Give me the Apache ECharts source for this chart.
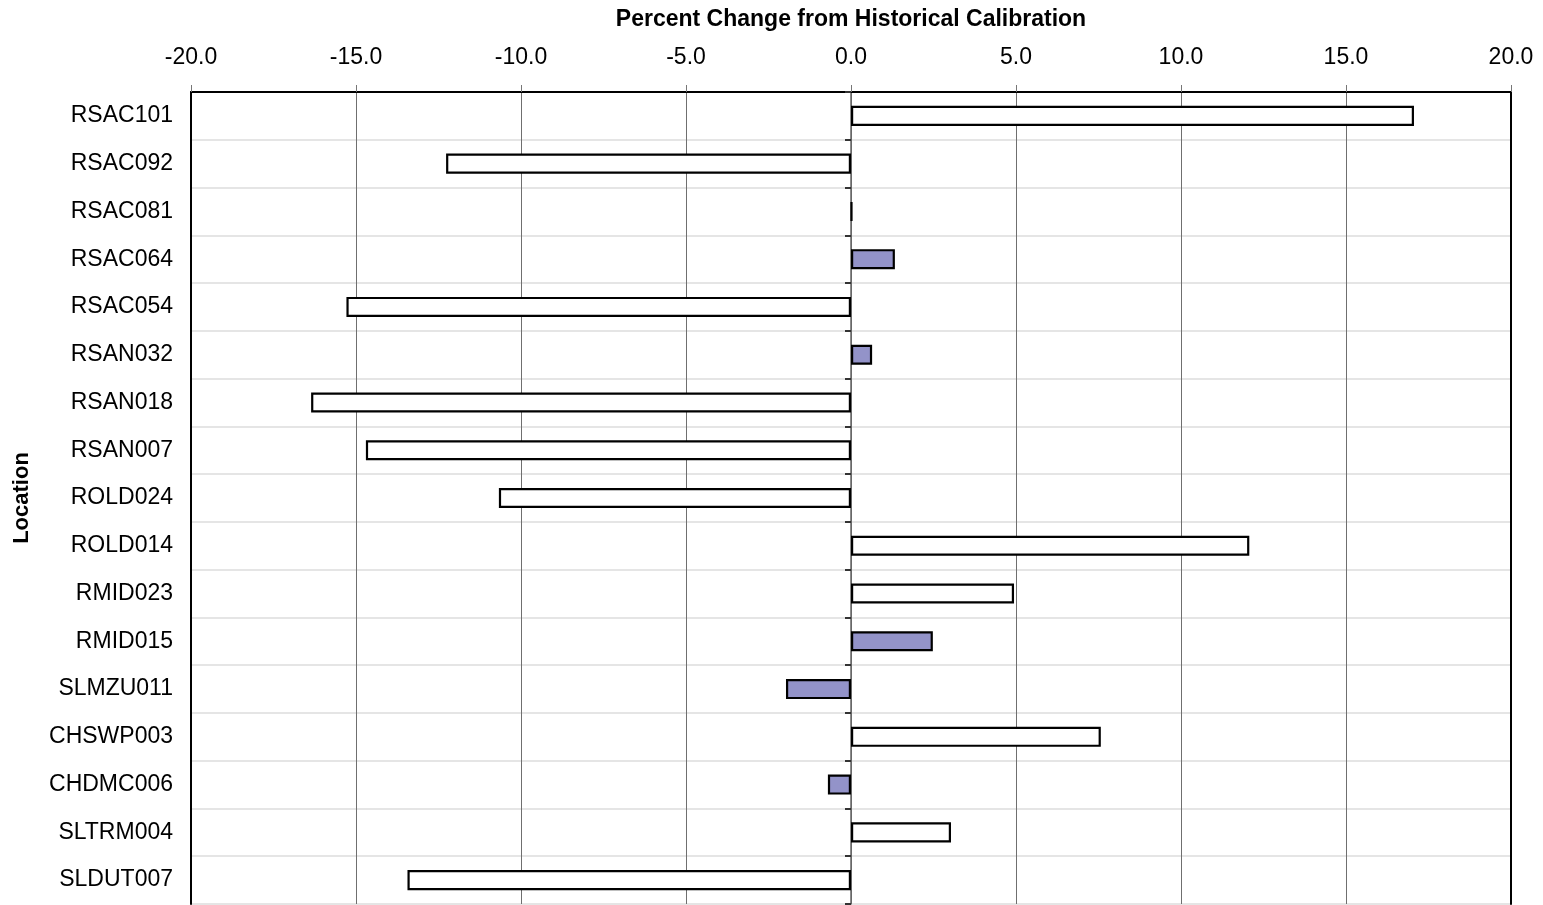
<!DOCTYPE html>
<html>
<head>
<meta charset="utf-8">
<script src="https://cdn.jsdelivr.net/npm/echarts@6/dist/echarts.min.js"></script>
<style>html,body{margin:0;padding:0;background:#fff;}#c{width:1543px;height:905px;}</style>
</head>
<body>
<div id="c"></div>
<script>
const categories = ['RSAC101','RSAC092','RSAC081','RSAC064','RSAC054','RSAN032','RSAN018','RSAN007','ROLD024','ROLD014','RMID023','RMID015','SLMZU011','CHSWP003','CHDMC006','SLTRM004','SLDUT007'];
const whiteValues = [17.06, -12.27, 0.03, '-', -15.29, '-', -16.36, -14.70, -10.67, 12.07, 4.94, '-', '-', 7.57, '-', 3.03, -13.44];
const purpleValues = ['-', '-', '-', 1.33, '-', 0.64, '-', '-', '-', '-', '-', 2.48, -1.97, '-', -0.70, '-', '-'];
const xMin = -20, xMax = 20, xStep = 5;
const xTitle = 'Percent Change from Historical Calibration';
const yTitle = 'Location';

const chart = echarts.init(document.getElementById('c'));
const font = 'Liberation Sans, Arial, sans-serif';
chart.setOption({
  animation: false,
  backgroundColor: '#fff',
  grid: {left: 191, right: 32, top: 92, bottom: 1, containLabel: false, outerBoundsMode: 'none'},
  xAxis: {
    type: 'value', position: 'top', min: xMin, max: xMax, interval: xStep,
    name: xTitle, nameLocation: 'middle', nameGap: 61,
    nameTextStyle: {fontFamily: font, fontSize: 23, fontWeight: 'bold', color: '#000'},
    axisLine: {show: true, onZero: false, lineStyle: {color: '#000', width: 2}},
    axisTick: {show: true, length: 7, lineStyle: {color: '#777', width: 1}},
    axisLabel: {fontFamily: font, fontSize: 23, color: '#000', margin: 23, formatter: v => v.toFixed(1)},
    splitLine: {show: true, lineStyle: {color: '#6f6f6f', width: 1}}
  },
  yAxis: [
    {
      type: 'category', data: categories, inverse: true, position: 'left',
      name: yTitle, nameLocation: 'middle', nameGap: 158, nameRotate: 90,
      nameTextStyle: {fontFamily: font, fontSize: 22, fontWeight: 'bold', color: '#000'},
      axisLine: {show: true, onZero: false, lineStyle: {color: '#000', width: 2}},
      axisTick: {show: false},
      axisLabel: {fontFamily: font, fontSize: 23, color: '#000', margin: 18},
      splitLine: {show: true, lineStyle: {color: '#ddd', width: 1.5}}
    },
    {
      type: 'category', data: categories, inverse: true, position: 'right',
      axisLine: {show: true, onZero: false, lineStyle: {color: '#000', width: 2}},
      axisTick: {show: false}, axisLabel: {show: false}, splitLine: {show: false}
    },
    {
      type: 'category', data: categories, inverse: true, position: 'left',
      axisLine: {show: true, onZero: true, lineStyle: {color: '#666', width: 1.5}},
      axisTick: {show: true, length: 6, lineStyle: {color: '#333', width: 2}},
      axisLabel: {show: false}, splitLine: {show: false}
    }
  ],
  series: [
    {
      type: 'bar', name: 'white', data: whiteValues, yAxisIndex: 0,
      barWidth: '42%', barGap: '-100%',
      itemStyle: {color: '#fff', borderColor: '#000', borderWidth: 2.2}
    },
    {
      type: 'bar', name: 'purple', data: purpleValues, yAxisIndex: 0,
      barWidth: '42%', barGap: '-100%',
      itemStyle: {color: '#9393C9', borderColor: '#000', borderWidth: 2.2}
    }
  ]
});
</script>
</body>
</html>
